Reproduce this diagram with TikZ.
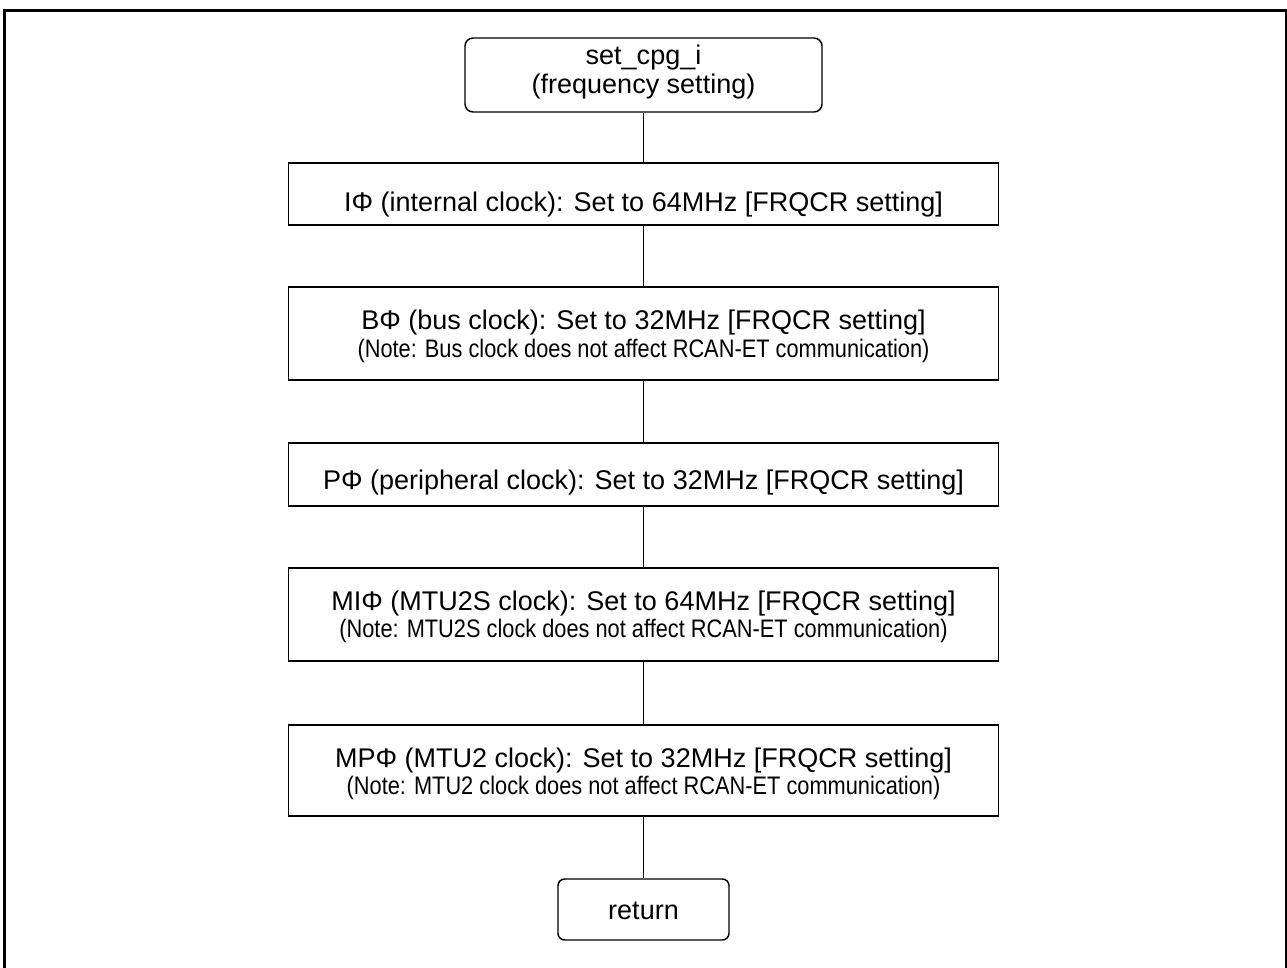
\documentclass[tikz,border=0pt]{standalone}
\usepackage{fontspec}
\setmainfont{Liberation Sans}
\newfontfamily\notefont[FakeStretch=0.86]{Liberation Sans}
\usetikzlibrary{calc}
\newcommand{\mainsize}{\fontsize{20.25}{21}\selectfont}
\newcommand{\notesize}{\notefont\fontsize{19}{20}\selectfont}
\begin{document}
\begin{tikzpicture}[x=0.75pt,y=-0.75pt,
  stepbox/.style={draw=black,line width=1.1pt,minimum width=532.5pt,inner sep=0pt},
  termbox/.style={draw=black,line width=1.1pt,rounded corners=6pt,inner sep=0pt},
  maintext/.style={anchor=base,inner sep=0pt,font=\mainsize},
  notetext/.style={anchor=base,inner sep=0pt,font=\notesize},
  link/.style={draw=black,line width=1pt}]
  \useasboundingbox (0,0) rectangle (1287,967);
  \clip (0,0) rectangle (1287,967);
  % outer frame
  \draw[line width=1.9pt] (4.3,10.7) rectangle (1285.8,990);

  % terminals
  \node[termbox,minimum width=267.75pt,minimum height=55.5pt] (start) at (643.5,75) {};
  \node[maintext] (startA) at ($(start.north)+(0,27)$) {set\_cpg\_i};
  \node[maintext] (startB) at ($(start.north)+(0,56)$) {(frequency setting)};

  \node[termbox,rounded corners=5pt,minimum width=128.25pt,minimum height=45.75pt] (ret) at (643.5,909.5) {};
  \node[maintext] (retA) at ($(ret.north)+(0,41)$) {return};

  % process steps
  \node[stepbox,minimum height=46.5pt] (s1) at (643.5,194) {};
  \node[maintext] (s1A) at ($(s1.north)+(0,49)$) {IΦ (internal clock): Set to 64MHz [FRQCR setting]};

  \node[stepbox,minimum height=69.75pt] (s2) at (643.5,333.5) {};
  \node[maintext] (s2A) at ($(s2.north)+(0,43)$) {BΦ (bus clock): Set to 32MHz [FRQCR setting]};
  \node[notetext] (s2B) at ($(s2.north)+(0,71)$) {(Note: Bus clock does not affect RCAN-ET communication)};

  \node[stepbox,minimum height=47.25pt] (s3) at (643.5,474.5) {};
  \node[maintext] (s3A) at ($(s3.north)+(0,47)$) {PΦ (peripheral clock): Set to 32MHz [FRQCR setting]};

  \node[stepbox,minimum height=69.75pt] (s4) at (643.5,614.5) {};
  \node[maintext] (s4A) at ($(s4.north)+(0,43)$) {MIΦ (MTU2S clock): Set to 64MHz [FRQCR setting]};
  \node[notetext] (s4B) at ($(s4.north)+(0,70)$) {(Note: MTU2S clock does not affect RCAN-ET communication)};

  \node[stepbox,minimum height=68.25pt] (s5) at (643.5,770.5) {};
  \node[maintext] (s5A) at ($(s5.north)+(0,43)$) {MPΦ (MTU2 clock): Set to 32MHz [FRQCR setting]};
  \node[notetext] (s5B) at ($(s5.north)+(0,70)$) {(Note: MTU2 clock does not affect RCAN-ET communication)};

  % connectors
  \draw[link] (start.south) -- (s1.north);
  \draw[link] (s1.south) -- (s2.north);
  \draw[link] (s2.south) -- (s3.north);
  \draw[link] (s3.south) -- (s4.north);
  \draw[link] (s4.south) -- (s5.north);
  \draw[link] (s5.south) -- (ret.north);
\end{tikzpicture}
\end{document}
